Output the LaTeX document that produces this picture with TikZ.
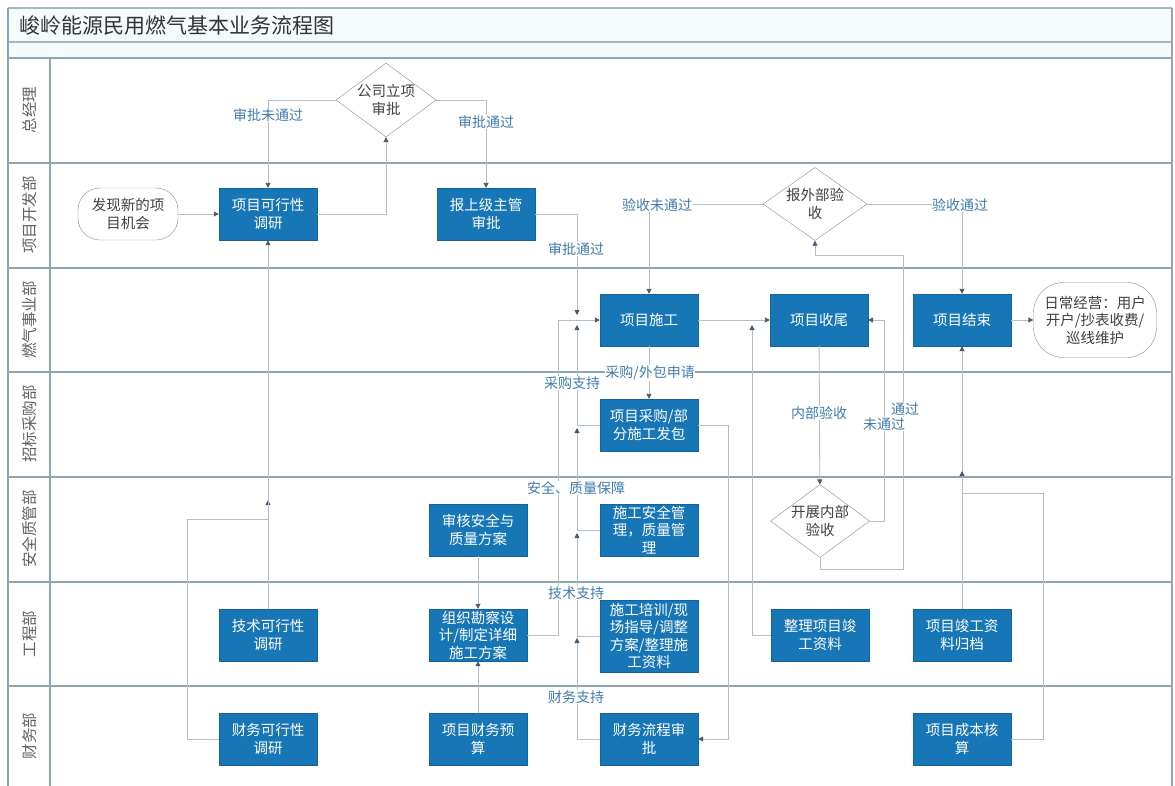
\documentclass[tikz,border=0pt]{standalone}
\usepackage{fontspec}
\setmainfont{Noto Sans CJK SC}
\usetikzlibrary{shapes.geometric,arrows.meta}
\definecolor{boxblue}{HTML}{1776B6}
\definecolor{lanec}{HTML}{8FA5B2}
\definecolor{connc}{HTML}{B2BEC9}
\definecolor{lblc}{HTML}{3F7CAC}
\definecolor{arrc}{HTML}{4A5A6A}
\definecolor{dgray}{HTML}{8C8C8C}
\definecolor{bandc}{HTML}{F5FAFC}
\begin{document}
\begin{tikzpicture}[x=1pt,y=-1pt,
  proc/.style={draw=boxblue!85!black, fill=boxblue, text=white, minimum width=98pt, minimum height=52pt, inner sep=1pt, align=center, font=\fontsize{14.5}{17.5}\selectfont},
  term/.style={draw=dgray, fill=white, rounded corners=22pt, align=center, inner sep=0pt, text=black!75, font=\fontsize{14.5}{17.5}\selectfont},
  dec/.style={draw=dgray, fill=white, diamond, inner sep=0pt},
  dtext/.style={align=center, text=black!75, font=\fontsize{14.5}{17.5}\selectfont},
  lbw/.style={text=lblc, fill=white, inner sep=0.5pt, font=\fontsize{14}{16}\selectfont},
  flow/.style={draw=connc, line width=0.9pt, -{Triangle[length=5pt,width=5pt,color=arrc]}},
  lanelabel/.style={rotate=90, text=black!62, font=\fontsize{15.5}{17}\selectfont},
  laneline/.style={draw=lanec, line width=1.3pt},
  ]
\useasboundingbox (0,0) rectangle (1175,785);
\fill[white] (0,0) rectangle (1175,785);
\fill[bandc] (8,8) rectangle (1172,58);
% frame
\draw[laneline, draw=lanec!80] (8,8) -- (1172,8);
\draw[laneline, draw=lanec!80] (8,42) -- (1172,42);
\draw[laneline] (8,58) -- (1172,58);
\foreach \yy in {163,268,372,477,582,686} \draw[laneline] (8,\yy) -- (1172,\yy);
\draw[laneline] (8,8) -- (8,795);
\draw[laneline] (1172,8) -- (1172,795);
\draw[laneline] (50,58) -- (50,795);
\node[anchor=west, text=black!80, font=\fontsize{21}{24}\selectfont] (title) at (16,25) {峻岭能源民用燃气基本业务流程图};
% lane labels
\node[lanelabel] (ln1) at (30,110) {总经理};
\node[lanelabel] (ln2) at (30,215) {项目开发部};
\node[lanelabel] (ln3) at (30,320) {燃气事业部};
\node[lanelabel] (ln4) at (30,424) {招标采购部};
\node[lanelabel] (ln5) at (30,529) {安全质管部};
\node[lanelabel] (ln6) at (30,634) {工程部};
\node[lanelabel] (ln7) at (30,736) {财务部};
% nodes
\node[term, minimum width=100pt, minimum height=52pt] (find) at (128,214) {发现新的项\\目机会};
\node[proc] (feas) at (268,214) {项目可行性\\调研};
\node[proc] (report) at (486,214) {报上级主管\\审批};
\node[dec, minimum width=100pt, minimum height=74pt] (approve) at (386,100) {};
\node[dtext] (approvet) at (approve) {公司立项\\审批};
\node[dec, minimum width=104pt, minimum height=73pt] (extacc) at (815,204) {};
\node[dtext] (extacct) at (extacc) {报外部验\\收};
\node[proc] (build) at (649,320) {项目施工};
\node[proc] (close) at (819,320) {项目收尾};
\node[proc] (end) at (962,320) {项目结束};
\node[term, minimum width=123pt, minimum height=75pt, rounded corners=30pt] (ops) at (1095,320) {日常经营：用户\\开户/抄表收费/\\巡线维护};
\node[proc] (purch) at (649,425) {项目采购/部\\分施工发包};
\node[proc] (audit) at (478,530) {审核安全与\\质量方案};
\node[proc] (safety) at (649,530) {施工安全管\\理，质量管\\理};
\node[dec, minimum width=99pt, minimum height=73pt] (intacc) at (820,521) {};
\node[dtext] (intacct) at (intacc) {开展内部\\验收};
\node[proc] (tech) at (268,635) {技术可行性\\调研};
\node[proc] (design) at (478,635) {组织勘察设\\计/制定详细\\施工方案};
\node[proc, minimum height=72pt] (train) at (649,636) {施工培训/现\\场指导/调整\\方案/整理施\\工资料};
\node[proc] (docs) at (820,635) {整理项目竣\\工资料};
\node[proc] (archive) at (962,635) {项目竣工资\\料归档};
\node[proc] (finfeas) at (268,739) {财务可行性\\调研};
\node[proc] (budget) at (478,739) {项目财务预\\算};
\node[proc] (finapp) at (649,739) {财务流程审\\批};
\node[proc] (cost) at (962,739) {项目成本核\\算};
% helper coordinates
\coordinate (jR) at (577,315);
\coordinate (sA) at (577,325);
\coordinate (sB) at (577,428);
\coordinate (sC) at (577,533);
\coordinate (sD) at (577,638);
\coordinate (dC) at (558,320);
\coordinate (lpA) at (884,320);
\coordinate (pq) at (903,255);
\coordinate (cA) at (752,325);
\coordinate (pB) at (728,739);
\coordinate (tA) at (268,500);
\coordinate (tB) at (268,519);
\coordinate (cq) at (962,493);
\coordinate (cA2) at (962,471);
% connectors
\draw[flow] (find) -- (feas);
\draw[flow] (feas.east) -| (approve.south);
\draw[flow] (approve.west) -| (feas.north);
\draw[flow] (approve.east) -| (report.north);
\draw[flow] (report.east) -| (jR);
\draw[flow] (purch.west) -| (sA);
\draw[flow] (safety.west) -| (sB);
\draw[flow] (train.west) -| (sC);
\draw[flow] (finapp.west) -| (sD);
\draw[flow] (design.east) -| (dC) -- (build.west);
\draw[flow] (build) -- (close);
\draw[flow] (intacc.east) -| (lpA) -- (close.east);
\draw[flow] (intacc.south) -- ++(0,12) -| (pq) -| (extacc.south);
\draw[flow] (close) -- (intacc);
\draw[flow] (extacc.west) -| (build.north);
\draw[flow] (extacc.east) -| (end.north);
\draw[flow] (end) -- (ops);
\draw[flow] (docs.west) -| (cA);
\draw[flow] (purch.east) -| (pB) -- (finapp.east);
\draw[flow] (build) -- (purch);
\draw[flow] (tech.north) -- (tA);
\draw[flow] (finfeas.west) -- ++(-31,0) |- (tB) -- (feas.south);
\draw[flow] (audit) -- (design);
\draw[flow] (budget) -- (design);
\draw[flow] (archive) -- (end);
\draw[flow] (cost.east) -- ++(32,0) |- (cq) -- (cA2);
% labels
\node[lbw] (l1) at (268,115) {审批未通过};
\node[lbw] (l2) at (486,122) {审批通过};
\node[lbw] (l3) at (576,249) {审批通过};
\node[lbw] (l4) at (657,205) {验收未通过};
\node[lbw] (l5) at (960,205) {验收通过};
\node[lbw] (l7) at (572,383) {采购支持};
\node[lbw] (l6) at (650,373) {采购/外包申请};
\node[lbw] (l8) at (576,488) {安全、质量保障};
\node[lbw] (l9) at (576,593) {技术支持};
\node[lbw] (l10) at (576,697) {财务支持};
\node[lbw] (l11) at (819,413) {内部验收};
\node[lbw] (l12) at (884,424) {未通过};
\node[lbw] (l13) at (905,409) {通过};
\end{tikzpicture}
\end{document}
